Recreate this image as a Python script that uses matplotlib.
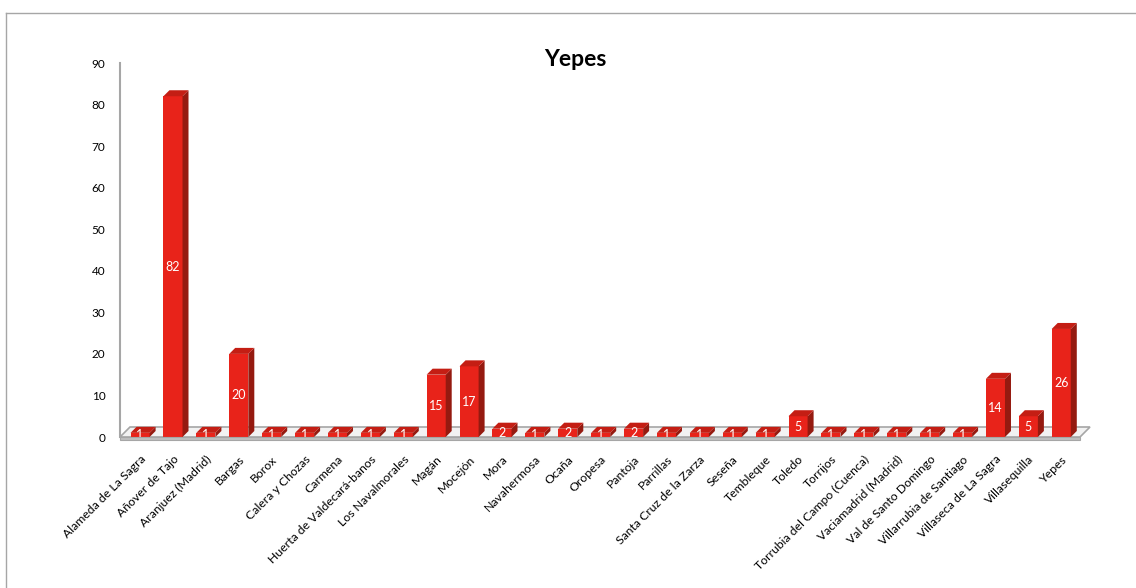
import matplotlib
matplotlib.use("Agg")
import matplotlib.pyplot as plt
from matplotlib.patches import Polygon
from matplotlib.lines import Line2D

plt.rcParams["font.family"] = ["Lato", "DejaVu Sans"]

municipios = [
    "Alameda de La Sagra", "Añover de Tajo", "Aranjuez (Madrid)", "Bargas", "Borox",
    "Calera y Chozas", "Carmena", "Huerta de Valdecará-banos", "Los Navalmorales",
    "Magán", "Mocejón", "Mora", "Navahermosa", "Ocaña", "Oropesa", "Pantoja",
    "Parrillas", "Santa Cruz de la Zarza", "Seseña", "Tembleque", "Toledo", "Torrijos",
    "Torrubia del Campo (Cuenca)", "Vaciamadrid (Madrid)", "Val de Santo Domingo",
    "Villarrubia de Santiago", "Villaseca de La Sagra", "Villasequilla", "Yepes",
]
valores = [1, 82, 1, 20, 1, 1, 1, 1, 1, 15, 17, 2, 1, 2, 1, 2, 1, 1, 1, 1, 5, 1, 1, 1, 1, 1, 14, 5, 26]
yticks = list(range(0, 100, 10))
titulo = "Yepes"

W, H = 1136, 588
fig = plt.figure(figsize=(W / 100, H / 100), dpi=100)

# marco exterior gris
fig.add_artist(Line2D([6 / W, 1], [1 - 13 / H, 1 - 13 / H], transform=fig.transFigure, color="#a6a6a6", lw=1))
fig.add_artist(Line2D([6 / W, 6 / W], [0, 1 - 13 / H], transform=fig.transFigure, color="#a6a6a6", lw=1))

ax_l, ax_r, ax_t, ax_b = 120, 1080, 63, 437
ax = fig.add_axes([ax_l / W, 1 - ax_b / H, (ax_r - ax_l) / W, (ax_b - ax_t) / H])
xmin, xmax = -0.61, 28.57
ax.set_xlim(xmin, xmax)
ax.set_ylim(0, 90)

ux = (xmax - xmin) / (ax_r - ax_l)   # unidades por pixel
uy = 90 / (ax_b - ax_t)
dx, dy = 6 * ux, 6 * uy
ancho = 0.58

frente = "#e8231a"
lado = "#951a10"
arriba = "#c41e14"

# suelo en perspectiva
fx, fy = 10 * ux, 10 * uy
suelo = Polygon([(xmin, 0), (xmax, 0), (xmax + fx, fy), (xmin + fx, fy)],
                closed=True, facecolor="#f2f2f2", edgecolor="#a6a6a6", lw=1.2, clip_on=False, zorder=1)
ax.add_patch(suelo)
labio = Polygon([(xmin, 0), (xmax, 0), (xmax, -2.5 * uy), (xmin, -2.5 * uy)],
                closed=True, facecolor="#bfbfbf", edgecolor="#a6a6a6", lw=0.8, clip_on=False, zorder=6)
ax.add_patch(labio)

x = list(range(len(valores)))
ax.bar(x, valores, width=ancho, color=frente, zorder=3)
for i, v in zip(x, valores):
    x0, x1 = i - ancho / 2, i + ancho / 2
    ax.add_patch(Polygon([(x1, 0), (x1 + dx, dy), (x1 + dx, v + dy), (x1, v)],
                         closed=True, facecolor=lado, edgecolor="none", zorder=3))
    ax.add_patch(Polygon([(x0, v), (x1, v), (x1 + dx, v + dy), (x0 + dx, v + dy)],
                         closed=True, facecolor=arriba, edgecolor="none", zorder=3))
    ax.text(i, v / 2, str(v), color="white", ha="center", va="center", fontsize=9, zorder=4, clip_on=True)

for s in ["top", "right", "bottom"]:
    ax.spines[s].set_visible(False)
ax.spines["left"].set_color("#a6a6a6")
ax.spines["left"].set_linewidth(1.5)
ax.patch.set_alpha(0)

ax.set_yticks(yticks)
ax.tick_params(axis="y", length=0, pad=10.5, labelsize=8.5)
ax.set_xticks(x)
ax.set_xticklabels(municipios, rotation=45, ha="right", rotation_mode="anchor", fontsize=8.8)
ax.tick_params(axis="x", length=0, pad=12)

fig.text(575 / W, 1 - 59 / H, titulo, ha="center", va="center", fontsize=16.5, fontweight="bold")

fig.savefig("out.png", dpi=100)
